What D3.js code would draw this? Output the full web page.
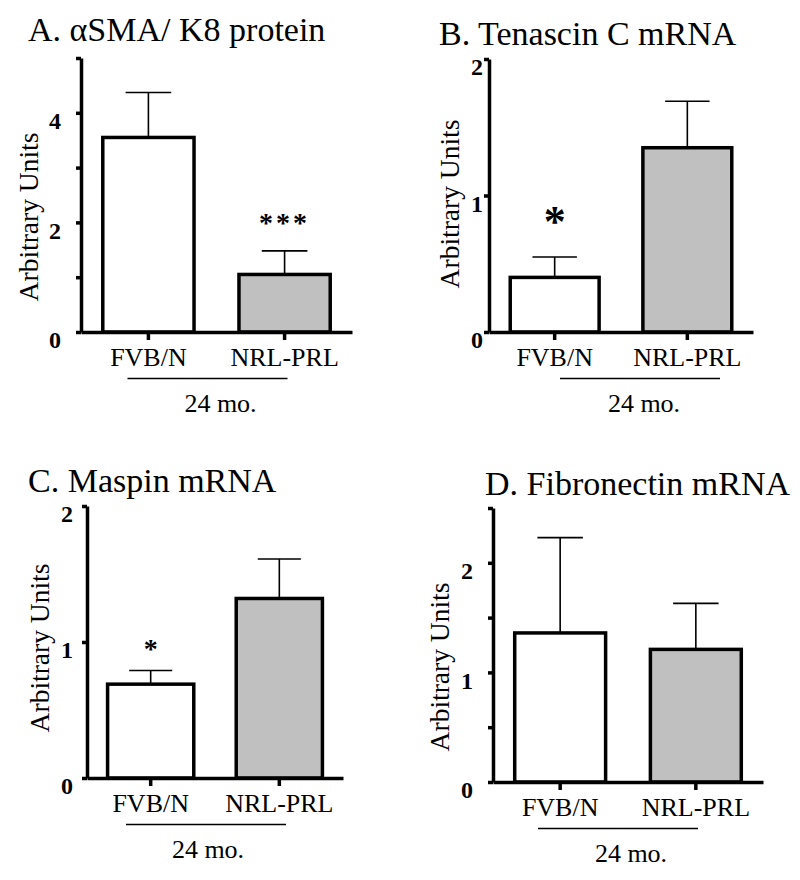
<!DOCTYPE html>
<meta charset="utf-8">
<style>
body { margin: 0; background: #fff; }
svg text { font-family: "Liberation Serif", "Times New Roman", Times, serif; fill: #000; }
.axis path, .axis line { stroke: #000; stroke-width: 3.5px; }
.bar { stroke: #000; stroke-width: 3.5px; }
.err { stroke: #000; stroke-width: 1.6px; fill: none; }
.group-line { stroke: #000; stroke-width: 1.4px; }
</style>
<svg width="800" height="880"></svg>
<script src="https://cdn.jsdelivr.net/npm/d3@7"></script>
<script>

var categories = ["FVB/N", "NRL-PRL"],
    groupLabel = "24 mo.",
    yLabel = "Arbitrary Units";

var titles = ["A. αSMA/ K8 protein", "B. Tenascin C mRNA", "C. Maspin mRNA", "D. Fibronectin mRNA"];

var meanFVB = [3.55, 0.40, 0.69, 1.36],
    meanNRL = [1.05, 1.35, 1.32, 1.21],
    semFVB  = [0.82, 0.15, 0.10, 0.87],
    semNRL  = [0.43, 0.34, 0.29, 0.42];

var yMax = [5, 2, 2, 2.5],
    yTicks = [[0, 1, 2, 3, 4, 5], [0, 1, 2], [0, 1, 2], [0, 0.5, 1, 1.5, 2, 2.5]],
    yTickLabels = [[0, 2, 4], [0, 1, 2], [0, 1, 2], [0, 1, 2]];

var stars = [["", "***"], ["*", ""], ["*", ""], ["", ""]];

var fills = ["#fff", "#c0c0c0"];

var serif = '"Liberation Serif", "Times New Roman", Times, serif';

// where each panel sits on the page
var layout = [
  {left: 81,  right: 352, top: 58,  bottom: 332, titleX: 28,  titleY: 41,  labX: 38,  labY: 217, tickGap: 20, lineShift: -9,  textShift: 4,  starSize: 28, starGap: 19},
  {left: 489, right: 753, top: 59,  bottom: 332, titleX: 439, titleY: 45,  labX: 459, labY: 204, tickGap: 6,  lineShift: 19,  textShift: 23, starSize: 44, starGap: 21},
  {left: 87,  right: 343, top: 506, bottom: 778, titleX: 28,  titleY: 492, labX: 49,  labY: 648, tickGap: 14, lineShift: -9,  textShift: -7, starSize: 28, starGap: 13},
  {left: 493, right: 763, top: 508, bottom: 782, titleX: 485, titleY: 495, labX: 449, labY: 667, tickGap: 20, lineShift: -10, textShift: 3,  starSize: 28, starGap: 13}
];

var svg = d3.select("svg");

titles.forEach(function(title, i) {
  var L = layout[i];
  var data = categories.map(function(c, j) {
    return {name: c, mean: j ? meanNRL[i] : meanFVB[i], sem: j ? semNRL[i] : semFVB[i], star: stars[i][j], fill: fills[j]};
  });

  var x = d3.scaleBand().domain(categories).range([L.left, L.right]).paddingInner(0.33).paddingOuter(0.16),
      y = d3.scaleLinear().domain([0, yMax[i]]).range([L.bottom, L.top]);

  var g = svg.append("g").attr("class", "panel");

  g.append("text")
      .attr("x", L.titleX)
      .attr("y", L.titleY)
      .style("font-size", "34px")
      .text(title);

  // bars first so the axes sit on top
  g.selectAll(".bar")
    .data(data)
    .enter().append("rect")
      .attr("class", "bar")
      .attr("x", function(d) { return x(d.name); })
      .attr("y", function(d) { return y(d.mean); })
      .attr("width", x.bandwidth())
      .attr("height", function(d) { return y(0) - y(d.mean); })
      .attr("fill", function(d) { return d.fill; });

  var cx = function(d) { return x(d.name) + x.bandwidth() / 2; };
  var cap = x.bandwidth() / 4;

  g.selectAll(".err")
    .data(data)
    .enter().append("path")
      .attr("class", "err")
      .attr("d", function(d) {
        return "M" + cx(d) + "," + y(d.mean) + "V" + y(d.mean + d.sem) +
               "M" + (cx(d) - cap) + "," + y(d.mean + d.sem) + "H" + (cx(d) + cap);
      });

  g.selectAll(".star")
    .data(data.filter(function(d) { return d.star; }))
    .enter().append("text")
      .attr("class", "star")
      .attr("x", cx)
      .attr("y", function(d) { return y(d.mean + d.sem) - L.starGap; })
      .attr("text-anchor", "middle")
      .style("font-size", L.starSize + "px")
      .style("font-weight", "bold")
      .style("letter-spacing", function(d) { return d.star.length > 1 ? "3px" : null; })
      .text(function(d) { return d.star; });

  var yAxis = g.append("g")
      .attr("class", "axis axis--y")
      .attr("transform", "translate(" + L.left + ",0)")
      .call(d3.axisLeft(y)
        .tickValues(yTicks[i])
        .tickSize(5)
        .tickSizeOuter(0)
        .tickPadding(L.tickGap - 5)
        .tickFormat(function(v) { return yTickLabels[i].indexOf(v) >= 0 ? v : ""; }));
  yAxis.selectAll("text")
      .attr("dy", "0.66em")
      .style("font-family", serif)
      .style("font-size", "24px")
      .style("font-weight", "bold");

  var xAxis = g.append("g")
      .attr("class", "axis axis--x")
      .attr("transform", "translate(0," + L.bottom + ")")
      .call(d3.axisBottom(x).tickSize(8).tickSizeOuter(0));
  xAxis.selectAll("text")
      .attr("y", 34)
      .attr("dy", null)
      .style("font-family", serif)
      .style("font-size", "26px");

  var mid = (cx(data[0]) + cx(data[1])) / 2;

  g.append("line")
      .attr("class", "group-line")
      .attr("x1", mid + L.lineShift - 80)
      .attr("x2", mid + L.lineShift + 80)
      .attr("y1", L.bottom + 46.5)
      .attr("y2", L.bottom + 46.5);

  g.append("text")
      .attr("x", mid + L.textShift)
      .attr("y", L.bottom + 80)
      .attr("text-anchor", "middle")
      .style("font-size", "26px")
      .text(groupLabel);

  g.append("text")
      .attr("transform", "translate(" + L.labX + "," + L.labY + ") rotate(-90)")
      .attr("text-anchor", "middle")
      .style("font-size", "27.5px")
      .text(yLabel);
});

</script>
